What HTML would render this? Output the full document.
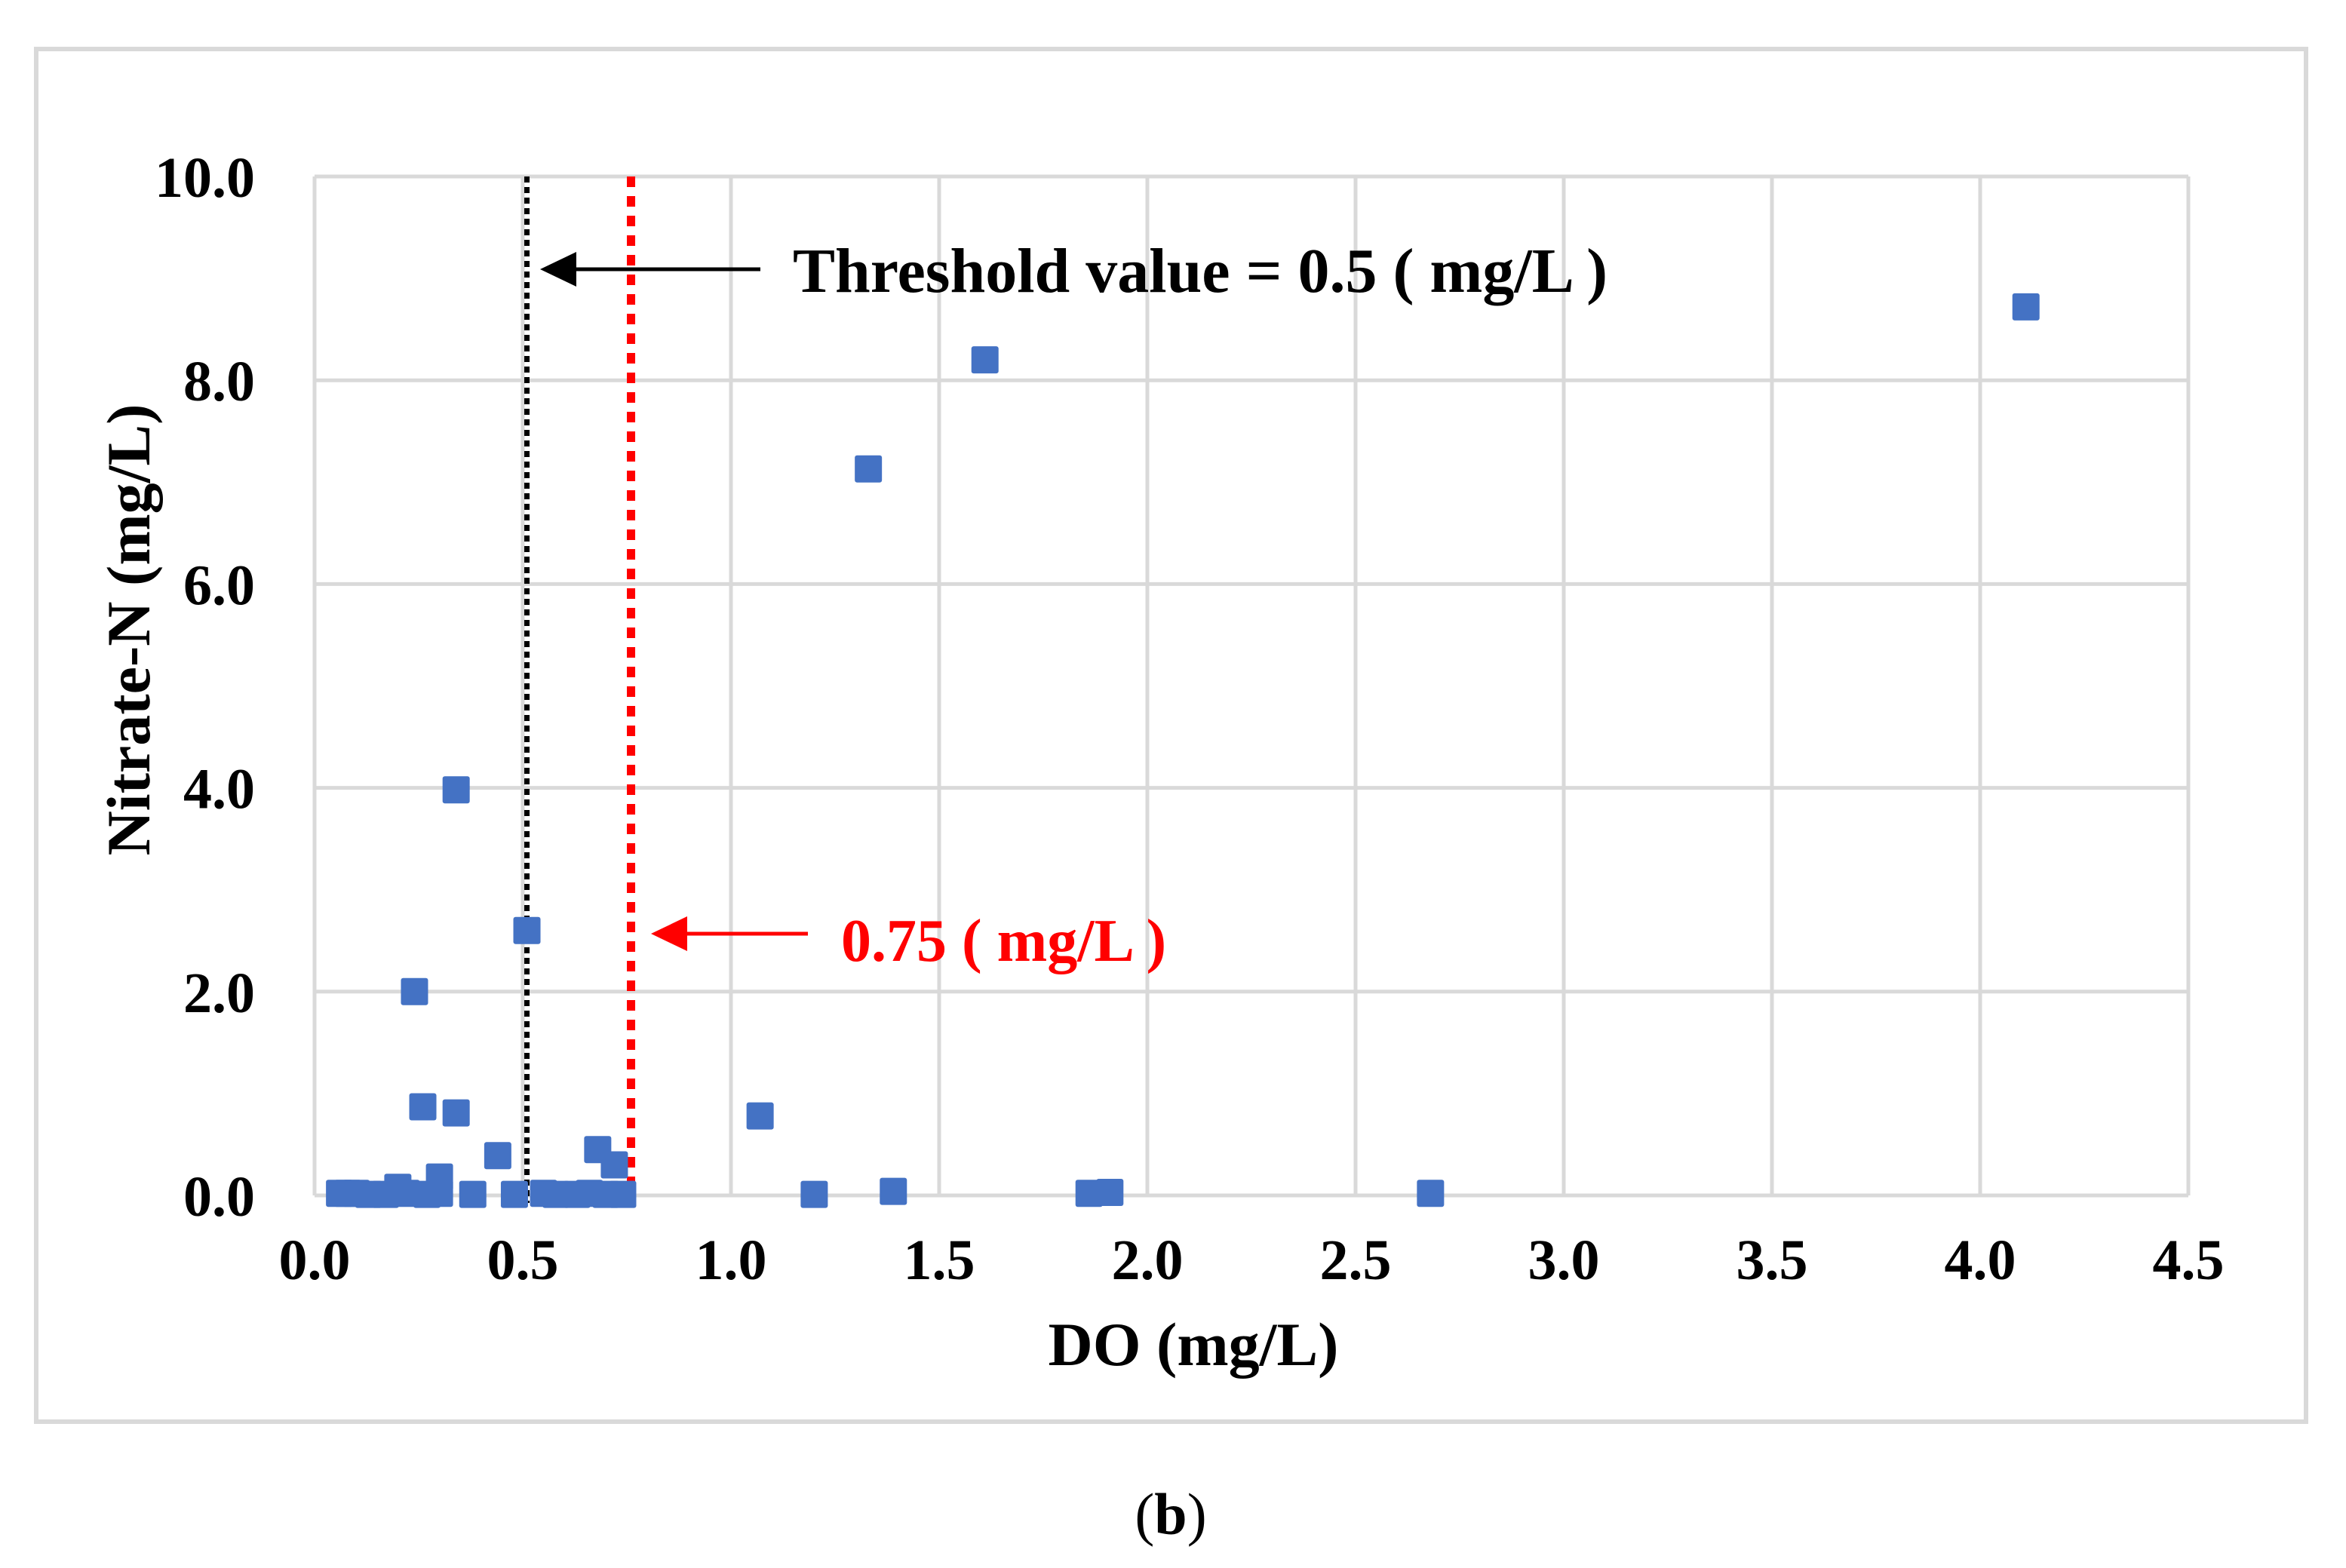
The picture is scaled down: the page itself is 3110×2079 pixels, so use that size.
<!DOCTYPE html>
<html><head><meta charset="utf-8"><style>
html,body{margin:0;padding:0;background:#fff;}
svg{display:block;font-family:"Liberation Serif",serif;}
</style></head><body>
<svg id="chart" width="3110" height="2079" viewBox="0 0 3110 2079" xmlns="http://www.w3.org/2000/svg">
<rect x="48" y="65" width="3009" height="1820" fill="#fff" stroke="#d9d9d9" stroke-width="6"/>
<g id="grid"></g>
<g id="refs"></g>
<g id="pts"></g>
<g id="labels"></g>
<text x="1582" y="1810" font-size="82" font-weight="bold" text-anchor="middle">DO (mg/L)</text>
<text transform="translate(198,835) rotate(-90)" font-size="82" font-weight="bold" text-anchor="middle">Nitrate-N (mg/L)</text>
<g>
<line x1="1008" y1="357" x2="755" y2="357" stroke="#000" stroke-width="5"/>
<polygon points="716,357 764,334 764,380" fill="#000"/>
<text x="1051" y="387" font-size="84" font-weight="bold">Threshold value = 0.5 ( mg/L )</text>
</g>
<g>
<line x1="1071" y1="1238" x2="905" y2="1238" stroke="#ff0000" stroke-width="5"/>
<polygon points="863,1238 911,1215 911,1261" fill="#ff0000"/>
<text x="1115" y="1274" font-size="80" font-weight="bold" fill="#ff0000">0.75 ( mg/L )</text>
</g>
<text x="1552" y="2034" font-size="78" text-anchor="middle">(<tspan font-weight="bold">b</tspan>)</text>
</svg>
<script>
const xTicks = [0,0.5,1,1.5,2,2.5,3,3.5,4,4.5];
const yTicks = [0,2,4,6,8,10];
const doVals = [4.11,1.61,1.33,0.34,0.51,0.24,0.26,0.34,1.07,0.44,0.68,0.72,0.30,0.20,2.68,1.20,1.39,1.86,1.91,0.06,0.08,0.10,0.13,0.17,0.22,0.27,0.30,0.38,0.48,0.55,0.58,0.63,0.66,0.70,0.74];
const nitrateVals = [8.72,8.20,7.13,3.98,2.60,2.00,0.87,0.81,0.78,0.39,0.45,0.30,0.18,0.08,0.02,0.01,0.04,0.02,0.03,0.02,0.02,0.02,0.01,0.01,0.02,0.01,0.02,0.01,0.01,0.02,0.01,0.01,0.02,0.01,0.01];
const refLines = [0.51, 0.76];
const NS='http://www.w3.org/2000/svg';
const L=417,R=2901,T=234,B=1585;
const sx=v=>L+(v-0)/(4.5-0)*(R-L);
const sy=v=>B-(v-0)/(10-0)*(B-T);
function mk(tag,a,p){const e=document.createElementNS(NS,tag);for(const k in a)e.setAttribute(k,a[k]);document.getElementById(p).appendChild(e);return e;}
xTicks.forEach(t=>{
 const l=mk('line',{x1:sx(t),x2:sx(t),y1:T,y2:B,stroke:'#d9d9d9','stroke-width':5},'grid');
 
 
 const tx=mk('text',{x:sx(t),y:1696,'font-size':76,'font-weight':'bold','text-anchor':'middle'},'labels');
 tx.textContent=t.toFixed(1);
 
 
});
yTicks.forEach(t=>{
 const l=mk('line',{x1:L,x2:R,y1:sy(t),y2:sy(t),stroke:'#d9d9d9','stroke-width':5},'grid');
 
 
 const tx=mk('text',{x:338,y:sy(t)+27,'font-size':76,'font-weight':'bold','text-anchor':'end'},'labels');
 tx.textContent=t.toFixed(1);
 
 
});
const r1=mk('line',{x1:sx(refLines[0]),x2:sx(refLines[0]),y1:T,y2:B+10,stroke:'#000','stroke-width':7,'stroke-dasharray':'8 6'},'refs');


const r2=mk('line',{x1:sx(refLines[1]),x2:sx(refLines[1]),y1:T,y2:B-6,stroke:'#ff0000','stroke-width':11,'stroke-dasharray':'14 12'},'refs');


doVals.forEach((x,i)=>{
 const s=36;
 const p=mk('rect',{x:sx(x)-s/2,y:sy(nitrateVals[i])-s/2,width:s,height:s,rx:3,fill:'#4472c4'},'pts');
 
 
});
</script>
</body></html>
